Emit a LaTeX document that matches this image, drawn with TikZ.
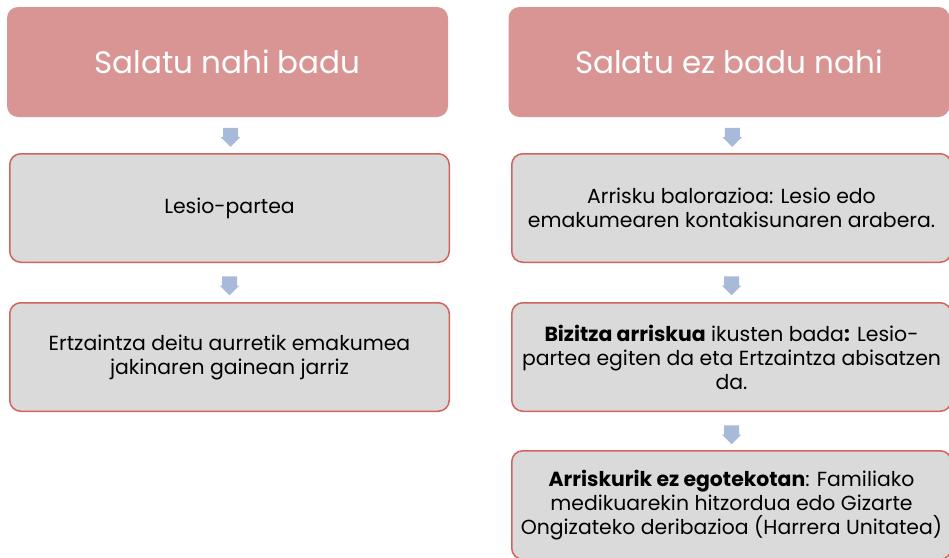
\documentclass[tikz,border=0pt]{standalone}
\usepackage{fontspec}
\setmainfont{Poppins}
\usetikzlibrary{shapes.arrows,calc}
\definecolor{pinkfill}{RGB}{217,149,148}
\definecolor{grayfill}{RGB}{218,218,218}
\definecolor{redline}{RGB}{210,100,95}
\definecolor{arrowblue}{RGB}{168,186,217}
\tikzset{
  titlebox/.style={fill=pinkfill, rounded corners=11pt, minimum width=441pt, minimum height=110pt,
    text=white, font=\fontsize{31}{36}\selectfont, inner sep=0pt},
  itembox/.style={fill=grayfill, draw=redline, line width=1.5pt, rounded corners=11pt,
    minimum width=439.5pt, minimum height=108.5pt, align=center, text=black,
    font=\fontsize{20.4}{24}\selectfont, inner sep=0pt},
  blockarrow/.style={single arrow, fill=arrowblue, draw=none, single arrow head extend=2.2pt,
    minimum width=19pt, minimum height=19pt, inner xsep=0pt, inner ysep=7.3pt, outer sep=0pt, rotate=-90}
}
\begin{document}
\begin{tikzpicture}[x=1pt,y=-1pt]
\useasboundingbox (0,0) rectangle (949,557);
\fill[white] (0,0) rectangle (949,557);
\clip (0,0) rectangle (949,557);
% left column
\node[titlebox] (L0) at (227.5,62) {Salatu nahi badu};
\node[itembox] (L1) at (229.5,208) {Lesio-partea};
\node[itembox] (L2) at (229.5,357) {Ertzaintza deitu aurretik emakumea\\jakinaren gainean jarriz};
% right column
\node[titlebox] (R0) at (729,62) {Salatu ez badu nahi};
\node[itembox] (R1) at (731.5,208) {Arrisku balorazioa: Lesio edo\\emakumearen kontakisunaren arabera.};
\node[itembox] (R2) at (731.5,357) {\textbf{Bizitza arriskua} ikusten bada\textbf{:} Lesio-\\partea egiten da eta Ertzaintza abisatzen\\da.};
\node[itembox] (R3) at (731.5,505) {\textbf{Arriskurik ez egotekotan}: Familiako\\medikuarekin hitzordua edo Gizarte\\Ongizateko deribazioa (Harrera Unitatea)};
% arrows
\node[blockarrow] (aL1) at ($(L0.south)!0.5!(L1.north)+(2,-1.5)$) {};
\node[blockarrow] (aL2) at ($(L1.south)!0.5!(L2.north)+(0,-0.5)$) {};
\node[blockarrow] (aR1) at ($(R0.south)!0.5!(R1.north)+(2,-1.5)$) {};
\node[blockarrow] (aR2) at ($(R1.south)!0.5!(R2.north)+(0,-0.5)$) {};
\node[blockarrow] (aR3) at ($(R2.south)!0.5!(R3.north)+(0,0)$) {};
\end{tikzpicture}
\end{document}
